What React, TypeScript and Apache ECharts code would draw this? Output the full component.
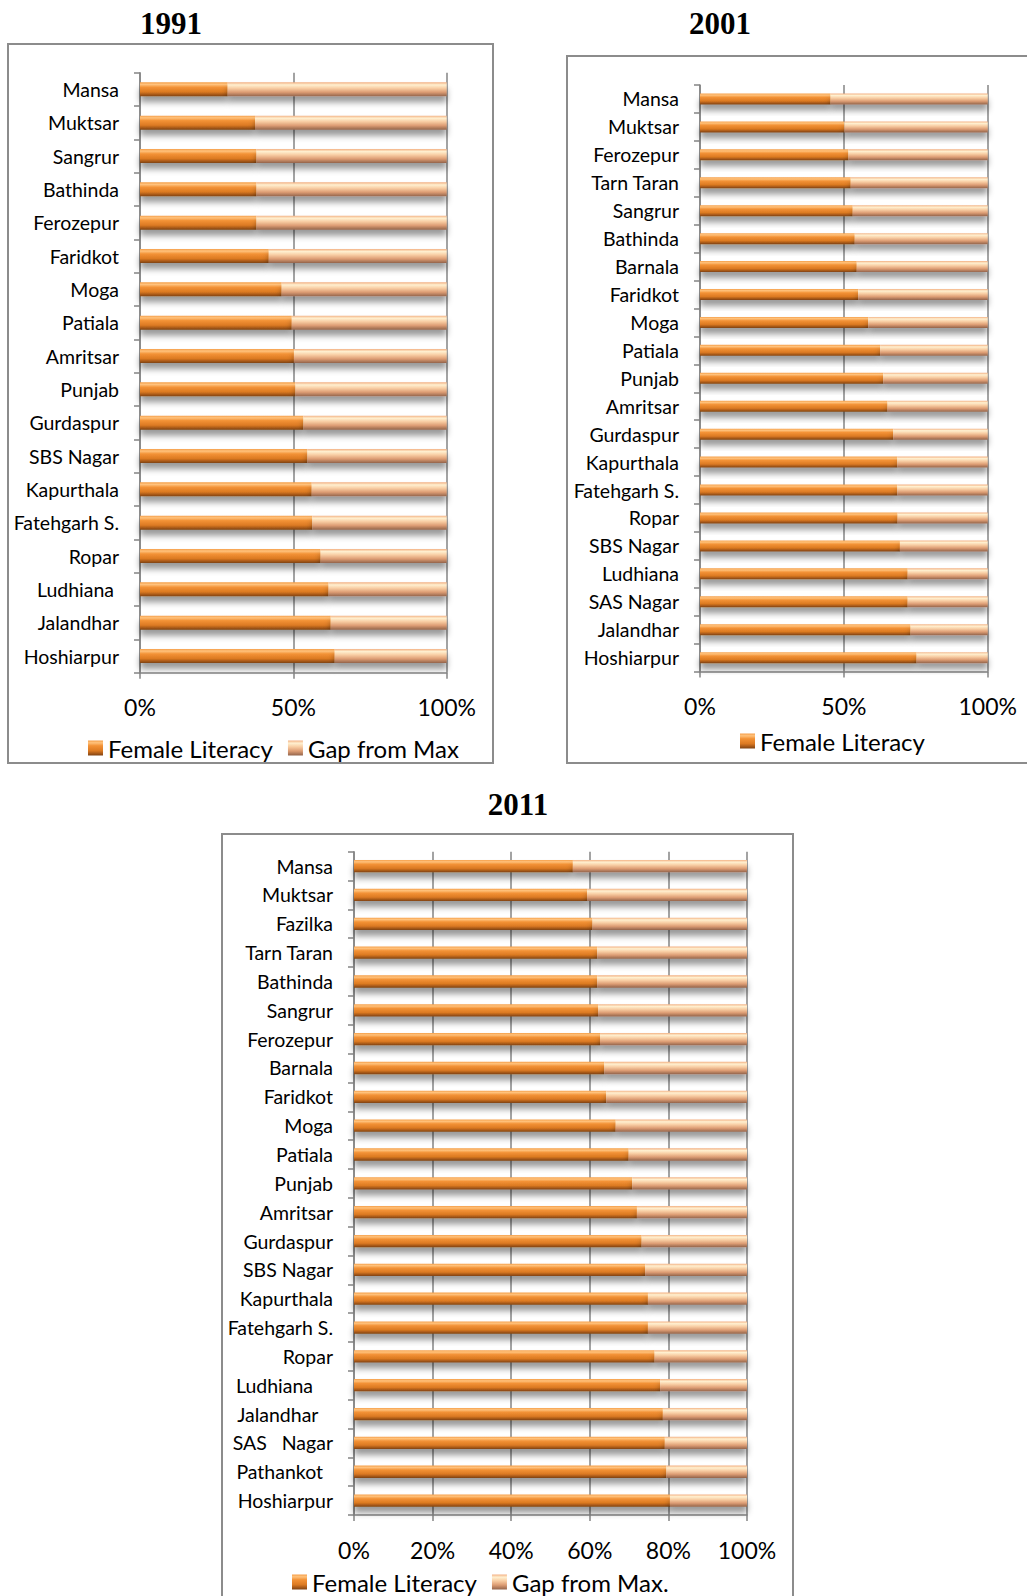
import React, { useEffect, useRef } from "react";
import * as echarts from "echarts";

const NB = "\u00A0";

// ---------- 1991 ----------
const cat1991 = ["Mansa", "Muktsar", "Sangrur", "Bathinda", "Ferozepur", "Faridkot", "Moga", "Patiala", "Amritsar", "Punjab", "Gurdaspur", "SBS Nagar", "Kapurthala", "Fatehgarh S.", "Ropar", "Ludhiana" + NB, "Jalandhar", "Hoshiarpur"];
const lit1991 = [28.6, 37.5, 38.0, 38.0, 38.0, 42.0, 46.2, 49.5, 50.2, 50.7, 53.3, 54.6, 56.0, 56.2, 58.9, 61.5, 62.2, 63.5];
const gap1991 = [71.4, 62.5, 62.0, 62.0, 62.0, 58.0, 53.8, 50.5, 49.8, 49.3, 46.7, 45.4, 44.0, 43.8, 41.1, 38.5, 37.8, 36.5];

// ---------- 2001 ----------
const cat2001 = ["Mansa", "Muktsar", "Ferozepur", "Tarn Taran", "Sangrur", "Bathinda", "Barnala", "Faridkot", "Moga", "Patiala", "Punjab", "Amritsar", "Gurdaspur", "Kapurthala", "Fatehgarh S.", "Ropar", "SBS Nagar", "Ludhiana", "SAS Nagar", "Jalandhar", "Hoshiarpur"];
const lit2001 = [45.4, 50.2, 51.6, 52.4, 53.1, 53.8, 54.5, 55.0, 58.5, 62.6, 63.7, 65.2, 67.2, 68.6, 68.6, 68.7, 69.5, 72.2, 72.2, 73.2, 75.3];
const gap2001 = [54.6, 49.8, 48.4, 47.6, 46.9, 46.2, 45.5, 45.0, 41.5, 37.4, 36.3, 34.8, 32.8, 31.4, 31.4, 31.3, 30.5, 27.8, 27.8, 26.8, 24.7];

// ---------- 2011 ----------
const cat2011 = ["Mansa", "Muktsar", "Fazilka", "Tarn Taran", "Bathinda", "Sangrur", "Ferozepur", "Barnala", "Faridkot", "Moga", "Patiala", "Punjab", "Amritsar", "Gurdaspur", "SBS Nagar", "Kapurthala", "Fatehgarh S.", "Ropar", "Ludhiana" + NB.repeat(4), "Jalandhar" + NB.repeat(3), "SAS" + NB.repeat(3) + "Nagar", "Pathankot" + NB.repeat(2), "Hoshiarpur"];
const lit2011 = [55.7, 59.3, 60.7, 61.9, 61.9, 62.1, 62.6, 63.7, 64.2, 66.6, 69.9, 70.8, 72.0, 73.2, 74.1, 74.8, 74.8, 76.5, 77.9, 78.6, 79.1, 79.5, 80.4];
const gap2011 = [44.3, 40.7, 39.3, 38.1, 38.1, 37.9, 37.4, 36.3, 35.8, 33.4, 30.1, 29.2, 28.0, 26.8, 25.9, 25.2, 25.2, 23.5, 22.1, 21.4, 20.9, 20.5, 19.6];

const titles = ["1991", "2001", "2011"];
const xTicks = [50, 50, 20];

const FONT = "Lato, 'Open Sans', sans-serif";
const GRID_COLOR = "#858585";

const litColor = new echarts.graphic.LinearGradient(0, 0, 0, 1, [
  { offset: 0, color: "#f59f4a" },
  { offset: 0.15, color: "#ffc27c" },
  { offset: 0.35, color: "#f39236" },
  { offset: 0.68, color: "#dc7a22" },
  { offset: 0.86, color: "#a95a19" },
  { offset: 1, color: "#7e4212" },
]);
const gapColor = new echarts.graphic.LinearGradient(0, 0, 0, 1, [
  { offset: 0, color: "#f3b184" },
  { offset: 0.18, color: "#fff0d0" },
  { offset: 0.42, color: "#f8cda3" },
  { offset: 0.7, color: "#dd9d74" },
  { offset: 1, color: "#93644b" },
]);

export default function App() {
  const ref = useRef<HTMLDivElement>(null);
  useEffect(() => {
    if (!ref.current) return;
    const chart = echarts.init(ref.current, null, { renderer: "svg" });

    const grids = [
      { left: 140, top: 72.7, width: 306.7, height: 600 },
      { left: 700, top: 85, width: 287.7, height: 586.6 },
      { left: 354, top: 851.7, width: 393, height: 663.3 },
    ];
    const cats = [cat1991, cat2001, cat2011];
    const lits = [lit1991, lit2001, lit2011];
    const gaps = [gap1991, gap2001, gap2011];
    const gapNames = ["Gap from Max", "Gap from Max", "Gap from Max."];
    const barWidths = [14, 11, 12.3];
    const titlePos = [
      { left: 166, top: 3 },
      { left: 715, top: 3 },
      { left: 513, top: 784 },
    ];

    const xAxis = grids.map((_, i) => ({
      type: "value",
      gridIndex: i,
      min: 0,
      max: 100,
      interval: xTicks[i],
      axisLine: { show: true, lineStyle: { color: GRID_COLOR, width: 1.5 } },
      axisTick: { show: true, length: 6, lineStyle: { color: GRID_COLOR, width: 1.5 } },
      splitLine: { show: true, lineStyle: { color: GRID_COLOR, width: 1.5 } },
      axisLabel: {
        formatter: "{value}%",
        fontFamily: FONT,
        fontSize: 23,
        color: "#000",
        margin: 23,
      },
    }));
    const yAxis = grids.map((_, i) => ({
      type: "category",
      gridIndex: i,
      inverse: true,
      data: cats[i],
      axisLine: { show: true, lineStyle: { color: GRID_COLOR, width: 1.5 } },
      axisTick: { show: true, length: 6, lineStyle: { color: GRID_COLOR, width: 1.5 } },
      axisLabel: {
        fontFamily: FONT,
        fontSize: 19.5,
        color: "#000",
        margin: 21,
      },
    }));

    const shadow = {
      shadowBlur: 6,
      shadowOffsetY: 6,
      shadowColor: "rgba(0,0,0,0.4)",
    };

    const series: any[] = [];
    grids.forEach((_, i) => {
      series.push({
        type: "bar",
        name: "Female Literacy",
        xAxisIndex: i,
        yAxisIndex: i,
        stack: "s" + i,
        barWidth: barWidths[i],
        data: lits[i],
        itemStyle: { color: litColor, ...shadow },
      });
      series.push({
        type: "bar",
        name: gapNames[i],
        xAxisIndex: i,
        yAxisIndex: i,
        stack: "s" + i,
        barWidth: barWidths[i],
        data: gaps[i],
        itemStyle: { color: gapColor, ...shadow },
      });
    });

    const legendText = { fontFamily: FONT, fontSize: 24, color: "#000" };
    const legendBase = {
      itemWidth: 15,
      itemHeight: 15,
      itemGap: 15,
      icon: "rect",
      textStyle: legendText,
      selectedMode: false,
    };

    chart.setOption({
      animation: false,
      backgroundColor: "#fff",
      title: titles.map((t, i) => ({
        text: t,
        left: titlePos[i].left,
        top: titlePos[i].top,
        textAlign: "center",
        textStyle: {
          fontFamily: "'Liberation Serif', 'Times New Roman', serif",
          fontWeight: "bold",
          fontSize: 31,
          color: "#000",
        },
      })),
      legend: [
        { ...legendBase, data: ["Female Literacy", "Gap from Max"], left: 83, top: 731 },
        { ...legendBase, data: ["Female Literacy"], left: 735, top: 724 },
        { ...legendBase, data: ["Female Literacy", "Gap from Max."], left: 287, top: 1565 },
      ],
      grid: grids.map((g) => ({ ...g, containLabel: false })),
      xAxis,
      yAxis,
      series,
      graphic: [
        { type: "rect", shape: { x: 8, y: 44, width: 485, height: 719 }, style: { fill: "none", stroke: "#8c8c8c", lineWidth: 2 }, z: -1 },
        { type: "rect", shape: { x: 567, y: 56, width: 480, height: 707 }, style: { fill: "none", stroke: "#8c8c8c", lineWidth: 2 }, z: -1 },
        { type: "rect", shape: { x: 222, y: 834, width: 571, height: 800 }, style: { fill: "none", stroke: "#8c8c8c", lineWidth: 2 }, z: -1 },
      ],
    });
    return () => chart.dispose();
  }, []);
  return (
    <div
      ref={ref}
      style={{ position: "absolute", left: 0, top: 0, width: 1027, height: 1596 }}
    />
  );
}
